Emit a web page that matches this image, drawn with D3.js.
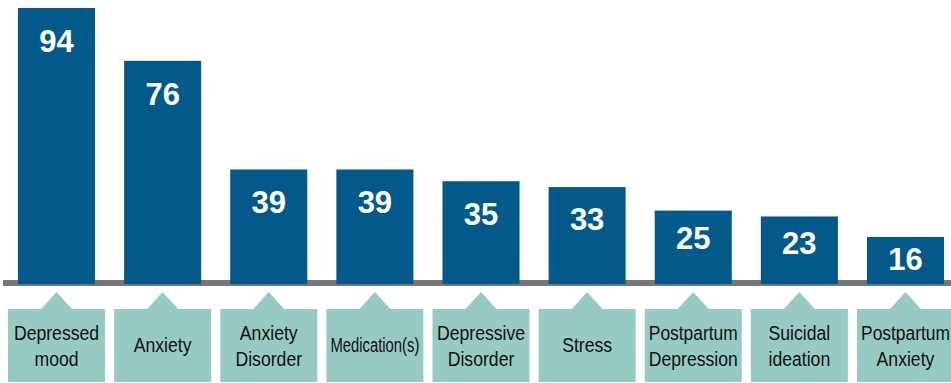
<html>
  <head>
    <script src="https://d3js.org/d3.v7.min.js"></script>
    <style>
      body { margin: 0; background: #fff; }
    </style>
  </head>
  <body>
    <div id="vis"></div>
  </body>
  <script>
    // Chart data
    var categories = ["Depressed mood", "Anxiety", "Anxiety Disorder", "Medication(s)", "Depressive Disorder",
                      "Stress", "Postpartum Depression", "Suicidal ideation", "Postpartum Anxiety"]
    var labelLines = [["Depressed", "mood"], ["Anxiety"], ["Anxiety", "Disorder"], ["Medication(s)"],
                      ["Depressive", "Disorder"], ["Stress"], ["Postpartum", "Depression"],
                      ["Suicidal", "ideation"], ["Postpartum", "Anxiety"]]
    var values = [94, 76, 39, 39, 35, 33, 25, 23, 16]

    var width = 951, height = 383
    var baseY = 284

    var svg = d3.select("#vis")
      .append("svg")
      .attr("width", width)
      .attr("height", height)

    var x = d3.scaleBand()
      .domain(categories)
      .range([18, 944])
      .paddingInner(0.274)
      .paddingOuter(0)

    var y = d3.scaleLinear()
      .domain([0, 94])
      .range([baseY, 8])

    // baseline
    svg.append("rect")
      .attr("x", 3)
      .attr("y", 280)
      .attr("width", width - 3)
      .attr("height", 6)
      .attr("fill", "#767676")

    var data = categories.map(function(c, i) { return {cat: c, value: values[i], lines: labelLines[i]} })

    // bars
    svg.selectAll(".bar")
      .data(data)
      .enter().append("rect")
      .attr("class", "bar")
      .attr("x", function(d) { return x(d.cat) })
      .attr("y", function(d) { return y(d.value) })
      .attr("width", x.bandwidth())
      .attr("height", function(d) { return baseY - y(d.value) })
      .attr("fill", "#03598a")

    // value labels
    svg.selectAll(".val")
      .data(data)
      .enter().append("text")
      .attr("class", "val")
      .text(function(d) { return d.value })
      .attr("x", function(d) { return x(d.cat) + x.bandwidth() / 2 })
      .attr("y", function(d) {
        var h = baseY - y(d.value)
        return y(d.value) + Math.min(44, 24 + 0.2 * h)
      })
      .attr("text-anchor", "middle")
      .attr("fill", "#fff")
      .attr("font-family", '"Liberation Sans", Arial, sans-serif')
      .attr("font-weight", "bold")
      .attr("font-size", "31px")

    // category label boxes with pointer
    var boxW = 97, boxTop = 309, boxBottom = 382
    var g = svg.selectAll(".lab")
      .data(data)
      .enter().append("g")
      .attr("class", "lab")
      .attr("transform", function(d) { return "translate(" + (x(d.cat) + x.bandwidth() / 2) + ",0)" })

    g.append("path")
      .attr("d", "M" + (-boxW / 2) + "," + boxTop + " H-15.5 L0,292 L15.5," + boxTop +
                 " H" + (boxW / 2) + " V" + boxBottom + " H" + (-boxW / 2) + " Z")
      .attr("fill", "#98cac4")

    // condensed look: squeeze regular sans horizontally
    g.each(function(d) {
      var n = d.lines.length
      var mid = (boxTop + boxBottom) / 2
      var first = n === 1 ? mid + 6.5 : mid - 13 + 7.5
      d.lines.forEach(function(line, i) {
        var t = d3.select(this).append("text")
          .text(line)
          .attr("x", 0)
          .attr("y", first + i * 26)
          .attr("text-anchor", "middle")
          .attr("fill", "#111")
          .attr("font-family", '"Liberation Sans", Arial, sans-serif')
          .attr("font-size", "21px")
        var w = t.node().getComputedTextLength()
        var k = Math.min(0.84, 89 / w)
        t.attr("transform", "scale(" + k + ",1)")
      }, this)
    })
  </script>
</html>
